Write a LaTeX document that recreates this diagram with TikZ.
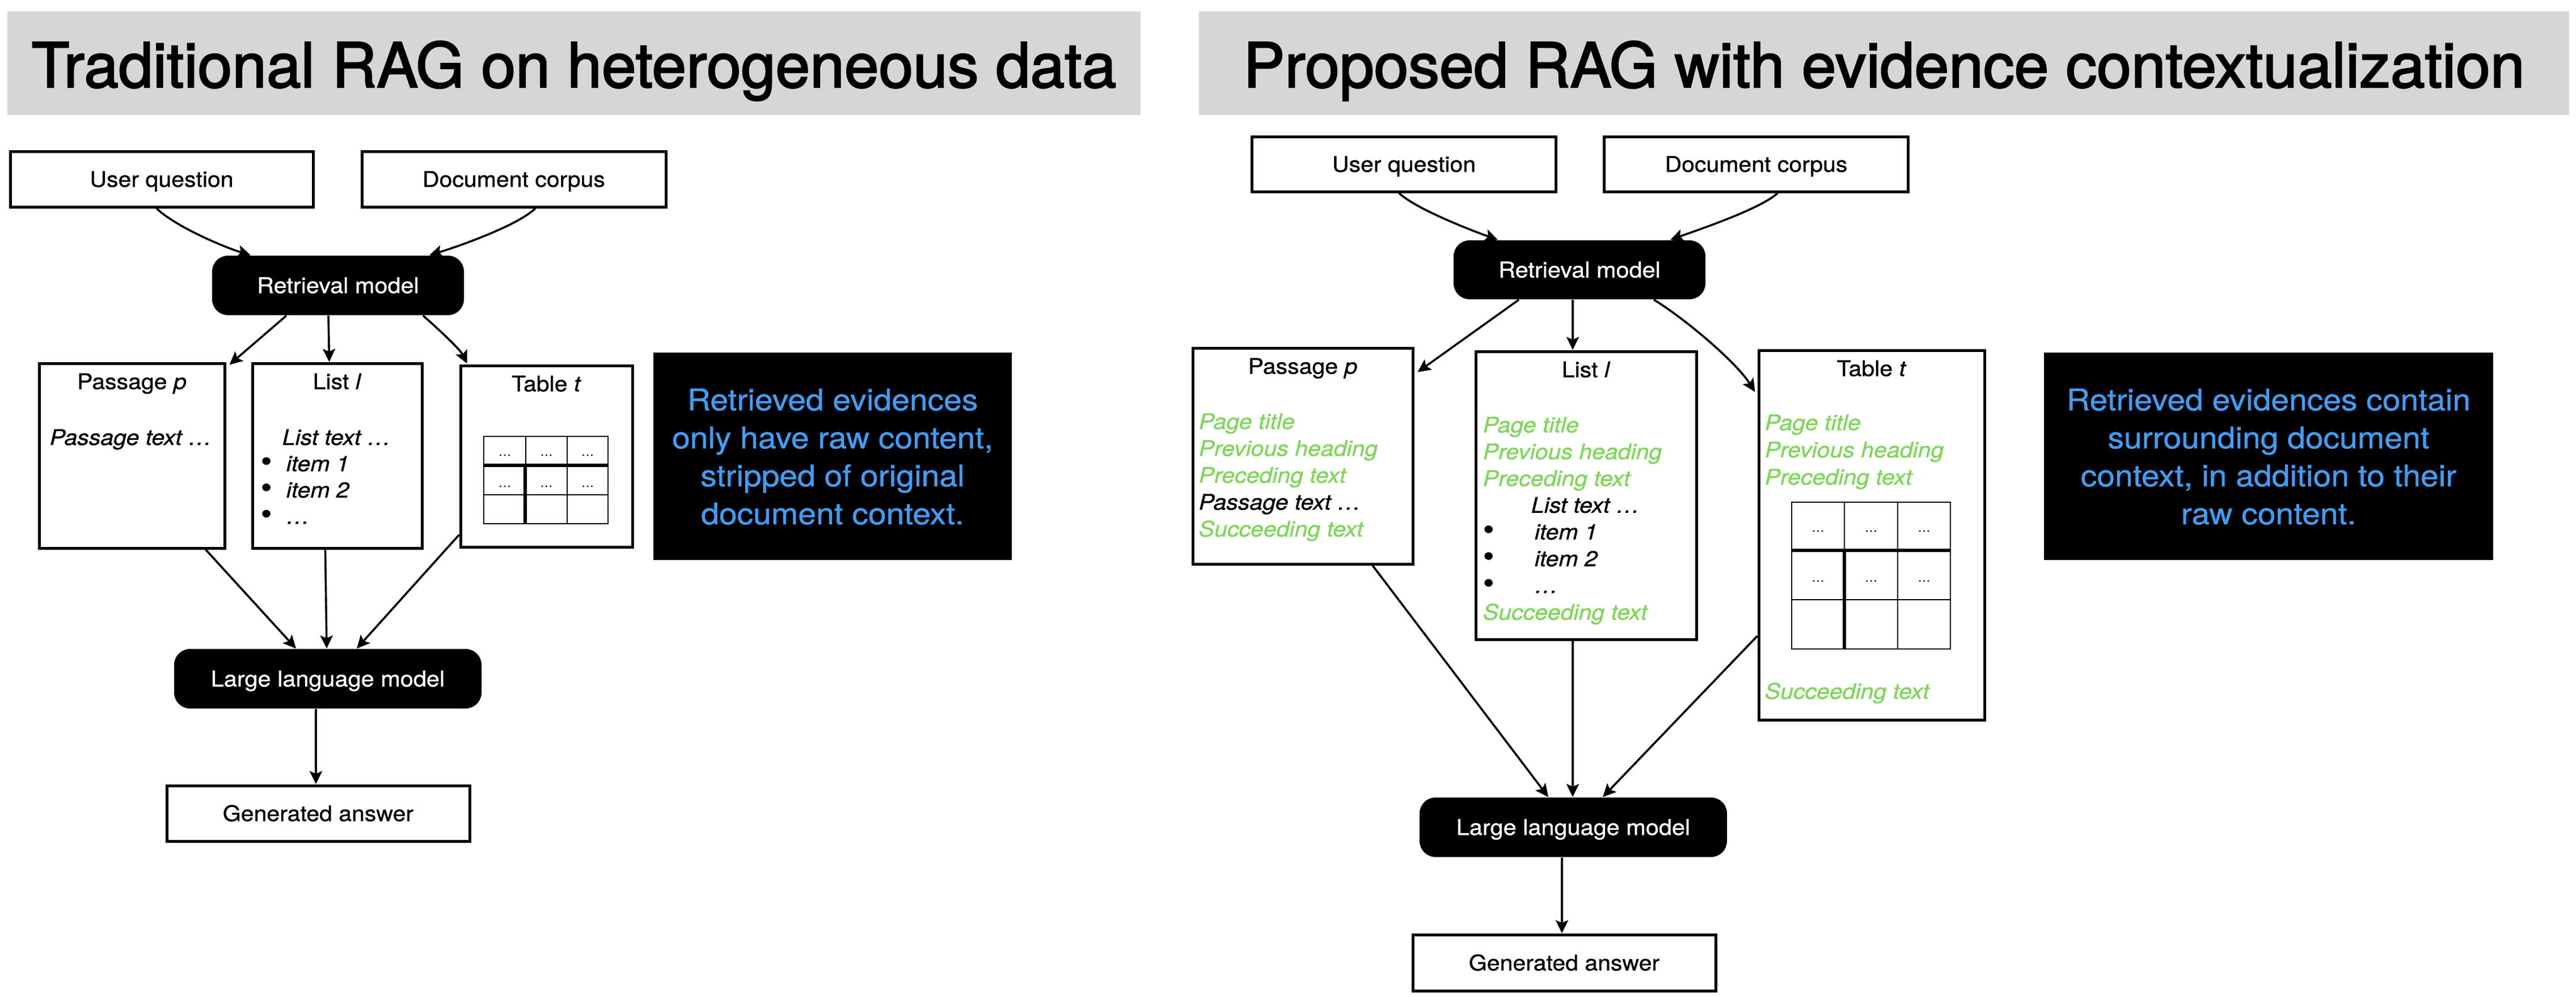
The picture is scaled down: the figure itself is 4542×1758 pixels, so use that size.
\documentclass[tikz,border=0pt]{standalone}
\usepackage{fontspec}
\setmainfont{TeX Gyre Heros}[FakeStretch=1.08,FakeBold=0.8]
\newfontfamily\titlefont{TeX Gyre Heros}[FakeBold=2.2]
\usetikzlibrary{arrows.meta,calc,fit}
\definecolor{grn}{RGB}{126,214,88}
\definecolor{blu}{RGB}{64,157,245}
\definecolor{barg}{RGB}{214,214,214}
\newcommand{\gtxt}[1]{{\color{grn}#1}}
\newcommand{\bul}{{\upshape\fontsize{13}{13}\selectfont •}}
\newcommand{\stackL}[2]{\vtop{\baselineskip=#1\lineskiplimit=-100pt\lineskip=0pt\halign{##\hfil\cr#2\crcr}}}
\newcommand{\stackC}[2]{\vtop{\baselineskip=#1\lineskiplimit=-100pt\lineskip=0pt\halign{\hfil##\hfil\cr#2\crcr}}}
\tikzset{
  wbox/.style={draw=black, line width=1.25pt, fill=white, inner sep=0pt,
    font=\fontsize{9.5}{11}\selectfont, text height=6.8pt, text depth=0pt},
  bbox/.style={fill=black, rounded corners=7pt, inner sep=0pt, text=white,
    font=\fontsize{9.6}{11}\selectfont, text height=6.8pt, text depth=0pt},
  docbox/.style={draw=black, line width=1.25pt, inner sep=0pt},
  notebox/.style={fill=black, inner sep=0pt},
  bar/.style={fill=barg, inner sep=0pt},
  arr/.style={-{Stealth[length=5.75pt,width=5.5pt,inset=1.2pt]}, line width=0.9pt},
  ttl/.style={font=\titlefont\fontsize{27.3}{30}\selectfont, anchor=base, inner sep=0pt},
  lbl/.style={font=\fontsize{9.5}{11.75}\selectfont, anchor=base, inner sep=0pt},
  txt/.style={font=\fontsize{9.5}{11.75}\selectfont\itshape, anchor=base west, inner sep=0pt},
  bluetxt/.style={font=\fontsize{13.2}{16.75}\selectfont, text=blu, anchor=base, inner sep=0pt},
  celldots/.style={font=\fontsize{5.2}{6}\selectfont, anchor=base, inner sep=0pt},
  tabthin/.style={line width=0.5pt},
  tabthick/.style={line width=1.5pt}
}
\begin{document}
\begin{tikzpicture}[x=0.25pt,y=-0.25pt]
\useasboundingbox (0,0) rectangle (4542,1758);
% ---------- title bars
\node[bar, fit={(13,20) (2011,203)}] (lbar) {};
\node[bar, fit={(2114,20) (4530,203)}] (rbar) {};
\node[ttl] (lttl) at (1012,154) {Traditional RAG on heterogeneous data};
\node[ttl] (rttl) at (3322,154) {Proposed RAG with evidence contextualization};

% ================= LEFT PANEL
\node[wbox, minimum width=133.5pt, minimum height=24.5pt] (luq) at (285,316) {User question};
\node[wbox, minimum width=134pt, minimum height=24.5pt] (ldc) at (906,316) {Document corpus};
\node[bbox, minimum width=111pt, minimum height=26.25pt] (lrm) at (596,503.5) {Retrieval model};

\node[docbox, fit={(69,641) (396,967)}] (lpass) {};
\node[docbox, fit={(445,641) (744,967)}] (llist) {};
\node[docbox, fit={(812,645) (1115,965)}] (ltab) {};

\node[lbl] (lpasst) at ($(lpass.north)+(0,48)$) {Passage \textit{p}};
\node[lbl] (llistt) at ($(llist.north)+(0,48)$) {List \textit{l}};
\node[lbl] (ltabt) at ($(ltab.north)+(0,48)$) {Table \textit{t}};

\node[txt] (lpassc) at (87,785) {Passage text …};
\node[txt] (llistc) at (459,785) {\stackL{11.6pt}{\hspace*{9.5pt}List text …\cr
  \makebox[11.25pt][l]{\bul}item 1\cr
  \makebox[11.25pt][l]{\bul}item 2\cr
  \makebox[11.25pt][l]{\bul}…}};

% left inner table
\draw[tabthin] (853,770) rectangle (1072,924);
\draw[tabthin] (927,770) -- (927,821) (1000,770) -- (1000,924) (853,873) -- (1072,873);
\draw[tabthick] (853,821) -- (1072,821) (926,821) -- (926,924);
\foreach \x/\n in {890/a,963.5/b,1036/c}{
  \node[celldots] (ldA\n) at (\x,804) {…};
  \node[celldots] (ldB\n) at (\x,859) {…};
}

\node[notebox, fit={(1152,622) (1784,988)}] (lnote) {};
\node[bluetxt] (lnotet) at (1468,724) {\stackC{16.75pt}{Retrieved evidences\cr
  only have raw content,\cr stripped of original\cr document context.}};

\node[bbox, minimum width=135.5pt, minimum height=26.25pt] (lllm) at (578,1197.5) {Large language model};
\node[wbox, minimum width=133.5pt, minimum height=24.5pt] (lga) at (561,1435) {Generated answer};

% left connectors
\draw[arr] ($(luq.south)+(-9,0)$) .. controls +(30,30) and +(-50,-15) .. ($(lrm.north)+(-154,0)$);
\draw[arr] ($(ldc.south)+(38,0)$) .. controls +(-30,30) and +(50,-15) .. ($(lrm.north)+(161,0)$);
\draw[arr] ($(lrm.south)+(-91,0)$) -- ($(lpass.north east)+(6,5)$);
\draw[arr] ($(lrm.south)+(-17,0)$) -- ($(llist.north)+(-14,0)$);
\draw[arr] ($(lrm.south)+(150,0)$) .. controls +(25,22) and +(-12,-25) .. ($(ltab.north west)+(14,-1)$);
\draw[arr] ($(lpass.south)+(130,0)$) -- ($(lllm.north)+(-56,0)$);
\draw[arr] ($(llist.south)+(-21,0)$) -- ($(lllm.north)+(-2,0)$);
\draw[arr] ($(ltab.south west)+(0,-24)$) -- ($(lllm.north)+(51,0)$);
\draw[arr] ($(lllm.south)+(-21,0)$) -- ($(lga.north)+(-4,0)$);

% ================= RIGHT PANEL
\node[wbox, minimum width=134pt, minimum height=24.25pt] (ruq) at (2475.5,289.5) {User question};
\node[wbox, minimum width=134pt, minimum height=24.25pt] (rdc) at (3096.5,289.5) {Document corpus};
\node[bbox, minimum width=111pt, minimum height=26pt] (rrm) at (2785,476) {Retrieval model};

\node[docbox, fit={(2103,614) (2491,995)}] (rpass) {};
\node[docbox, fit={(2602,620) (2991,1128)}] (rlist) {};
\node[docbox, fit={(3101,618) (3499,1270)}] (rtab) {};

\node[lbl] (rpasst) at ($(rpass.north)+(0,48)$) {Passage \textit{p}};
\node[lbl] (rlistt) at ($(rlist.north)+(0,48)$) {List \textit{l}};
\node[lbl] (rtabt) at ($(rtab.north)+(0,48)$) {Table \textit{t}};

\node[txt] (rpassc) at (2113,757) {\stackL{11.85pt}{\gtxt{Page title}\cr
  \gtxt{Previous heading}\cr \gtxt{Preceding text}\cr Passage text …\cr
  \gtxt{Succeeding text}}};
\node[txt] (rlistc) at (2614,763) {\stackL{11.8pt}{\gtxt{Page title}\cr
  \gtxt{Previous heading}\cr \gtxt{Preceding text}\cr
  \hspace*{21.25pt}List text …\cr
  \makebox[22.75pt][l]{\bul}item 1\cr
  \makebox[22.75pt][l]{\bul}item 2\cr
  \makebox[22.75pt][l]{\bul}…\cr
  \gtxt{Succeeding text}}};
\node[txt] (rtabc) at (3111,759) {\stackL{12pt}{\gtxt{Page title}\cr
  \gtxt{Previous heading}\cr \gtxt{Preceding text}}};
\node[txt, text=grn] (rtabs) at (3111,1233) {Succeeding text};

% right inner table
\draw[tabthin] (3159,886) rectangle (3439,1145);
\draw[tabthin] (3252,886) -- (3252,971) (3346,886) -- (3346,1145) (3159,1058) -- (3439,1058);
\draw[tabthick] (3159,971) -- (3439,971) (3252,971) -- (3252,1145);
\foreach \x/\n in {3205.5/a,3299/b,3392.5/c}{
  \node[celldots] (rdA\n) at (\x,938) {…};
  \node[celldots] (rdB\n) at (\x,1026) {…};
}

\node[notebox, fit={(3604,622) (4396,988)}] (rnote) {};
\node[bluetxt] (rnotet) at (4000,724) {\stackC{16.75pt}{Retrieved evidences contain\cr
  surrounding document\cr context, in addition to their\cr raw content.}};

\node[bbox, minimum width=135.5pt, minimum height=26.25pt] (rllm) at (2774,1459.5) {Large language model};
\node[wbox, minimum width=133.5pt, minimum height=24.75pt] (rga) at (2758,1698.5) {Generated answer};

% right connectors
\draw[arr] ($(ruq.south)+(-9,0)$) .. controls +(30,28) and +(-50,-18) .. ($(rrm.north)+(-144,0)$);
\draw[arr] ($(rdc.south)+(38,0)$) .. controls +(-30,28) and +(50,-18) .. ($(rrm.north)+(160,0)$);
\draw[arr] ($(rrm.south)+(-107,0)$) -- ($(rpass.north east)+(6,45)$);
\draw[arr] ($(rrm.south)+(-12,0)$) -- ($(rlist.north)+(-23.5,0)$);
\draw[arr] ($(rrm.south)+(131,0)$) .. controls +(50,30) and +(-35,-55) .. ($(rtab.north west)+(-4,76)$);
\draw[arr] ($(rpass.south)+(123,0)$) -- ($(rllm.north)+(-44,0)$);
\draw[arr] ($(rlist.south)+(-23.5,0)$) -- ($(rllm.north)+(-1,0)$);
\draw[arr] ($(rtab.west)+(0,178)$) -- ($(rllm.north)+(52,0)$);
\draw[arr] ($(rllm.south)+(-20,0)$) -- ($(rga.north)+(-4,0)$);
\end{tikzpicture}
\end{document}
